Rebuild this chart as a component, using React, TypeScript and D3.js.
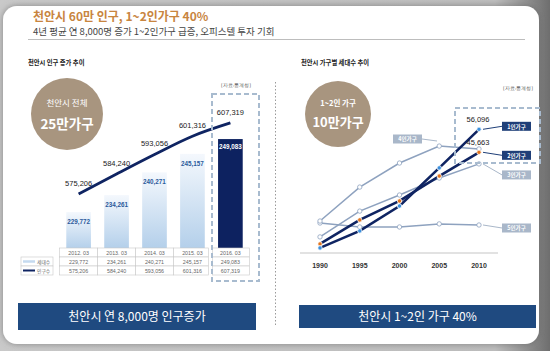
import React from "react";
import * as d3 from "d3";

// left chart: 천안시 인구 증가 추이
const periods = ["2012. 03", "2013. 03", "2014. 03", "2015. 03", "2016. 03"];
const households = [229772, 234261, 240271, 245157, 249083];
const population = [575206, 584240, 593056, 601316, 607319];

// right chart: 천안시 가구별 세대수 추이
const years = [1990, 1995, 2000, 2005, 2010];
const onePerson = [2300, 10000, 21300, 38600, 56096];
const twoPerson = [4100, 15000, 23600, 34900, 45663];
const threePerson = [7300, 19000, 26300, 34000, 40400];
const fourPerson = [14500, 29900, 40800, 48500, 47200];
const fivePerson = [13600, 11800, 11800, 13200, 12700];
const seriesNames = ["1인가구", "2인가구", "3인가구", "4인가구", "5인가구"];

const KR = "'Noto Sans CJK KR', 'Noto Sans', sans-serif";
const NUM = "'Liberation Sans', Arial, sans-serif";
const NAVY = "#0f2462";
const STEEL = "#8ea2bf";
const fmt = d3.format(",");

const App: React.FC = () => {
  // ---- left chart scales
  const x = d3.scaleBand<string>().domain(periods).range([53, 256]).padding(0.35);
  const yBar = d3.scaleLinear().domain([220000, 250000]).range([249, 135.6]);
  const yPop = d3.scaleLinear().domain([560000, 620000]).range([227.6, 94.9]);
  const cx = (p: string) => (x(p) ?? 0) + x.bandwidth() / 2;
  const popLine = d3
    .line<number>()
    .x((_, i) => cx(periods[i]))
    .y((d) => yPop(d))
    .curve(d3.curveMonotoneX);

  // ---- right chart scales
  const xr = d3.scalePoint<number>().domain(years).range([320, 479]);
  const yr = d3.scaleLinear().domain([0, 60000]).range([253, 120.7]);
  const hhLine = d3
    .line<number>()
    .x((_, i) => xr(years[i]) ?? 0)
    .y((d) => yr(d));

  const series = [
    { name: seriesNames[4], values: fivePerson, stroke: STEEL, w: 1.5, dot: "#fff", dotStroke: STEEL, box: "#a9b7c9", dy: 3 },
    { name: seriesNames[3], values: fourPerson, stroke: STEEL, w: 1.5, dot: "#fff", dotStroke: STEEL, box: "#a9b7c9", dy: 0 },
    { name: seriesNames[2], values: threePerson, stroke: STEEL, w: 1.5, dot: "#fff", dotStroke: STEEL, box: "#a9b7c9", dy: 11 },
    { name: seriesNames[1], values: twoPerson, stroke: NAVY, w: 2.6, dot: "#e2731c", dotStroke: "#fff", box: "#1f3f78", dy: 3 },
    { name: seriesNames[0], values: onePerson, stroke: NAVY, w: 2.6, dot: "#3b8fdc", dotStroke: "#fff", box: "#1f3f78", dy: -3 },
  ];

  const tableTop = 248;
  const rowH = 9;

  return (
    <svg width={550} height={351} style={{ position: "absolute", left: 0, top: 0 }}>
      <defs>
        <linearGradient id="barGrad" x1="0" y1="0" x2="0" y2="1">
          <stop offset="0" stopColor="#f4f8fd" />
          <stop offset="1" stopColor="#b3cfea" />
        </linearGradient>
        <linearGradient id="bgGrad" x1="0" y1="0" x2="1" y2="0">
          <stop offset="0" stopColor="#c9c9c9" />
          <stop offset="0.9" stopColor="#bdbdbd" />
          <stop offset="1" stopColor="#6e6e6e" />
        </linearGradient>
        <filter id="cardShadow" x="-5%" y="-5%" width="110%" height="110%">
          <feDropShadow dx="0" dy="0" stdDeviation="3" floodColor="#666" floodOpacity="0.7" />
        </filter>
      </defs>

      {/* frame */}
      <rect x={0} y={0} width={550} height={351} fill="url(#bgGrad)" />
      <rect x={3} y={6} width={536} height={338} rx={14} fill="#fff" filter="url(#cardShadow)" />

      {/* header */}
      <text x={33} y={21} fontFamily={KR} fontSize={12} fontWeight={700} fill="#c8853f">
        천안시 60만 인구, 1~2인가구 40%
      </text>
      <text x={33} y={35} fontFamily={KR} fontSize={9.5} fill="#444">
        4년 평균 연 8,000명 증가 1~2인가구 급증, 오피스텔 투자 기회
      </text>
      <line x1={28} x2={525} y1={39.5} y2={39.5} stroke="#bdbdbd" strokeWidth={1} />

      <text x={28} y={65} fontFamily={KR} fontSize={6.3} fontWeight={700} fill="#222">
        천안시 인구 증가 추이
      </text>
      <text x={301} y={65} fontFamily={KR} fontSize={6.3} fontWeight={700} fill="#222">
        천안시 가구별 세대수 추이
      </text>

      {/* divider */}
      <line x1={275.5} x2={275.5} y1={82} y2={325} stroke="#9a9a9a" strokeWidth={1} strokeDasharray="1.5,2" />

      {/* ---------------- left chart ---------------- */}
      <circle cx={67} cy={114} r={36} fill="#a8957f" />
      <text x={67} y={106} textAnchor="middle" fontFamily={KR} fontSize={8.5} fill="#fff">
        천안시 전체
      </text>
      <text x={67} y={129} textAnchor="middle" fontFamily={KR} fontSize={13.5} fontWeight={700} fill="#fff">
        25만가구
      </text>

      <text x={236} y={87} textAnchor="middle" fontFamily="'DejaVu Serif', serif" fontSize={4.5} fill="#555">
        [자료:통계청]
      </text>

      {periods.map((p, i) => {
        const last = i === periods.length - 1;
        const top = yBar(households[i]);
        return (
          <g key={p}>
            <rect
              x={x(p)}
              y={top}
              width={x.bandwidth()}
              height={yBar(220000) - top}
              fill={last ? "#0d2260" : "url(#barGrad)"}
            />
            <text
              x={cx(p)}
              y={top + (last ? 10 : 12)}
              textAnchor="middle"
              fontFamily={NUM}
              fontSize={6.3}
              fontWeight={700}
              fill={last ? "#fff" : "#2b5a9b"}
            >
              {fmt(households[i])}
            </text>
          </g>
        );
      })}

      <path d={popLine(population) ?? ""} fill="none" stroke={NAVY} strokeWidth={2.8} />
      {population.map((v, i) => (
        <text
          key={i}
          x={cx(periods[i])}
          y={yPop(v) - 8}
          textAnchor="middle"
          fontFamily={NUM}
          fontSize={7.5}
          fill="#1a1a1a"
        >
          {fmt(v)}
        </text>
      ))}

      {/* data table */}
      <g fontFamily={NUM} fontSize={5.3} fill="#666">
        {periods.map((p, i) => {
          const step = x.step();
          const left = cx(p) - step / 2 + (i === 4 ? 1 : 0);
          const w = i === 3 ? step - 3 : step - (i === 4 ? 1 : 0);
          return (
            <g key={p}>
              {[0, 1, 2].map((r) => (
                <rect
                  key={r}
                  x={left}
                  y={tableTop + r * rowH}
                  width={w}
                  height={rowH}
                  fill="#fff"
                  stroke="#c8c8c8"
                  strokeWidth={0.6}
                />
              ))}
              <text x={cx(p)} y={tableTop + 6.5} textAnchor="middle">{p}</text>
              <text x={cx(p)} y={tableTop + rowH + 6.5} textAnchor="middle">{fmt(households[i])}</text>
              <text x={cx(p)} y={tableTop + rowH * 2 + 6.5} textAnchor="middle">{fmt(population[i])}</text>
            </g>
          );
        })}
        <rect x={21} y={tableTop + rowH} width={32} height={rowH} fill="#fff" stroke="#c8c8c8" strokeWidth={0.6} />
        <rect x={21} y={tableTop + rowH * 2} width={32} height={rowH} fill="#fff" stroke="#c8c8c8" strokeWidth={0.6} />
        <line x1={23} x2={35} y1={tableTop + rowH * 1.5} y2={tableTop + rowH * 1.5} stroke="#c5daef" strokeWidth={2.5} />
        <line x1={23} x2={35} y1={tableTop + rowH * 2.5} y2={tableTop + rowH * 2.5} stroke={NAVY} strokeWidth={2} />
        <text x={37} y={tableTop + rowH + 6.5} fontFamily={KR} fontSize={4.8}>세대수</text>
        <text x={37} y={tableTop + rowH * 2 + 6.5} fontFamily={KR} fontSize={4.8}>인구수</text>
      </g>

      {/* highlight box 2016 */}
      <rect x={212} y={94} width={47} height={187} fill="none" stroke="#a8bbcf" strokeWidth={2} strokeDasharray="5,3" />

      {/* ---------------- right chart ---------------- */}
      <circle cx={338} cy={114} r={33} fill="#a8957f" />
      <text x={338} y={106} textAnchor="middle" fontFamily={KR} fontSize={7.5} fontWeight={700} fill="#fff">
        1~2인 가구
      </text>
      <text x={338} y={127} textAnchor="middle" fontFamily={KR} fontSize={13} fontWeight={700} fill="#fff">
        10만가구
      </text>
      <text x={518} y={90} textAnchor="middle" fontFamily="'DejaVu Serif', serif" fontSize={4.5} fill="#555">
        [자료:통계청]
      </text>

      <line x1={300} x2={498} y1={253} y2={253} stroke="#e2e2e2" strokeWidth={2} />
      {years.map((yv) => (
        <text
          key={yv}
          x={xr(yv)}
          y={268}
          textAnchor="middle"
          fontFamily={NUM}
          fontSize={7}
          fontWeight={700}
          fill="#333"
        >
          {yv}
        </text>
      ))}

      {series.map((s) => (
        <path key={s.name} d={hhLine(s.values) ?? ""} fill="none" stroke={s.stroke} strokeWidth={s.w} />
      ))}
      {series.map((s) =>
        s.values.map((v, i) => (
          <circle
            key={s.name + i}
            cx={xr(years[i])}
            cy={yr(v)}
            r={2.2}
            fill={s.dot}
            stroke={s.dotStroke}
            strokeWidth={0.8}
          />
        ))
      )}

      <text x={478} y={122} textAnchor="middle" fontFamily={NUM} fontSize={7.5} fill="#1a1a1a">
        {fmt(onePerson[4])}
      </text>
      <text x={478} y={145} textAnchor="middle" fontFamily={NUM} fontSize={7.5} fill="#1a1a1a">
        {fmt(twoPerson[4])}
      </text>

      {/* series tags */}
      {series.map((s) => {
        const isFour = s.name === seriesNames[3];
        const px = isFour ? 437 : (xr(2010) ?? 0) + 4;
        const py = isFour ? 141 : yr(s.values[4]);
        const bx = isFour ? 393 : 502;
        const by = isFour ? 139 : py + s.dy;
        return (
          <g key={s.name + "tag"}>
            <line
              x1={isFour ? bx + 29 : px}
              y1={isFour ? by : py}
              x2={isFour ? px : bx}
              y2={isFour ? py : by}
              stroke={s.box}
              strokeWidth={1}
            />
            <rect x={bx} y={by - 4.5} width={29} height={9} fill={s.box} />
            <text x={bx + 14.5} y={by + 2.2} textAnchor="middle" fontFamily={KR} fontSize={5.5} fontWeight={700} fill="#fff">
              {s.name}
            </text>
          </g>
        );
      })}

      <rect x={455} y={108} width={85} height={55} fill="none" stroke="#a8bbcf" strokeWidth={2} strokeDasharray="5,3" />

      {/* bottom banners */}
      <rect x={18} y={303} width={238} height={27} fill="#1f4a80" />
      <text x={137} y={321} textAnchor="middle" fontFamily={KR} fontSize={12} fill="#fff">
        천안시 연 8,000명 인구증가
      </text>
      <rect x={299} y={305} width={237} height={23} fill="#1f4a80" />
      <text x={417.5} y={321} textAnchor="middle" fontFamily={KR} fontSize={12} fill="#fff">
        천안시 1~2인 가구 40%
      </text>
    </svg>
  );
};

export default App;
